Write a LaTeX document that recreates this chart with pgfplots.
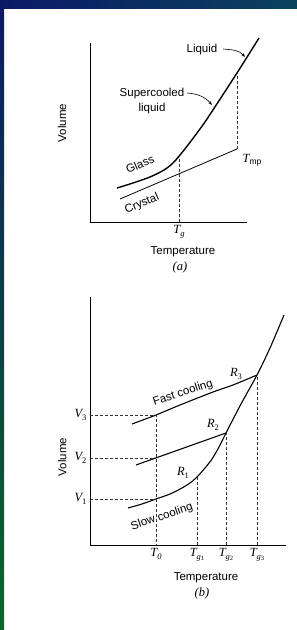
\documentclass[border=0pt]{standalone}
\usepackage{fontspec}
\setmainfont{Liberation Sans}
\newfontfamily\serif{Liberation Serif}
\usepackage{pgfplots}
\pgfplotsset{compat=1.18}
\usetikzlibrary{arrows.meta}
\definecolor{navy}{RGB}{12,26,102}
\definecolor{teal2}{RGB}{10,66,94}
\definecolor{midteal}{RGB}{10,80,82}
\definecolor{green2}{RGB}{8,104,40}
\newcommand{\lbl}{\fontsize{11.5}{13.8}\selectfont}
\newcommand{\sub}[1]{\raisebox{-0.4ex}{\fontsize{8.5}{9}\selectfont #1}}
\newcommand{\ssub}[1]{\raisebox{-0.35ex}{\fontsize{6.5}{7}\selectfont\upshape #1}}
\newcommand{\mi}[1]{{\serif\itshape\fontsize{12.5}{14}\selectfont #1}}
\begin{document}
\begin{tikzpicture}[x=1pt,y=1pt,font=\lbl]
\useasboundingbox (0,0) rectangle (297,630);
\fill[white] (0,0) rectangle (297,630);
\shade[left color=navy,right color=teal2] (0,621) rectangle (297,630);
\shade[top color=navy, middle color=midteal, bottom color=green2] (0,0) rectangle (4,621);

\pgfplotsset{
 diag/.style={scale only axis, axis lines=left, axis line style={-, line width=0.9pt},
   major tick length=0pt, clip=false,
   tick label style={font=\lbl}, label style={font=\lbl}},
 dsh/.style={black!80, line width=0.6pt, dash pattern=on 3pt off 2pt},
}

% ---------- (a) ----------
\begin{axis}[diag, at={(90,408)}, anchor=south west, width=157pt, height=179pt,
  xmin=90, xmax=247, ymin=408, ymax=587,
  xtick={179}, xticklabels={\mi{T\sub{g}}}, ytick=\empty,
  xlabel={Temperature}, ylabel={Volume},
  xlabel style={at={(axis description cs:0.592,-0.168)}, anchor=center},
  ylabel style={at={(axis description cs:-0.178,0.553)}, anchor=center}]
\addplot[black, line width=1.4pt, smooth, tension=0.5] coordinates
  {(117,442) (133,447) (150,453) (164,460) (173,467) (180,475) (188,485) (197,497) (207,511) (237,557) (259,592)};
\addplot[black, line width=0.8pt] coordinates {(120,431) (237,481)};
\addplot[dsh] coordinates {(179,408) (179,474)};
\addplot[dsh] coordinates {(237,481) (237,557)};
\node[rotate=24] at (axis cs:140,466) {Glass};
\node[rotate=23] at (axis cs:142,426) {Crystal};
\node at (axis cs:202,580) {Liquid};
\node at (axis cs:152,536) {Supercooled};
\node at (axis cs:152,521) {liquid};
\node at (axis cs:252,470) {\mi{T\sub{\normalfont mp}}};
\node at (axis cs:180,363) {\mi{(a)}};
\draw[-{Stealth[length=4pt]}, line width=0.6pt] (axis cs:223,581) to[out=-5,in=130] (axis cs:245,573);
\draw[-{Stealth[length=4pt]}, line width=0.6pt] (axis cs:187,537) to[out=-5,in=130] (axis cs:212,525);
\end{axis}

% ---------- (b) ----------
\begin{axis}[diag, at={(90,85)}, anchor=south west, width=196pt, height=248pt,
  xmin=90, xmax=286, ymin=85, ymax=333,
  xtick={156,197,226,257},
  xticklabels={\mi{T\sub{0}},\mi{T\sub{g\ssub{1}}},\mi{T\sub{g\ssub{2}}},\mi{T\sub{g\ssub{3}}}},
  ytick={131,172,215}, yticklabels={\mi{V\sub{\upshape 1}},\mi{V\sub{\upshape 2}},\mi{V\sub{\upshape 3}}},
  xlabel={Temperature}, ylabel={Volume},
  xlabel style={at={(axis description cs:0.592,-0.133)}, anchor=center},
  ylabel style={at={(axis description cs:-0.142,0.355)}, anchor=center}]
\addplot[black, line width=1.1pt, smooth, tension=0.5] coordinates
  {(128,122) (142,126) (156,131) (170,136) (182,142) (190,147) (197,153) (205,162) (212,171) (219,183) (226,197) (241,226) (257,255) (270,282) (284,315)};
\addplot[black, line width=1.1pt] coordinates {(136,165) (226,197)};
\addplot[black, line width=1.1pt, smooth, tension=0.5] coordinates
  {(132,206) (156,215) (180,225) (213,238) (233,245) (257,255)};
\addplot[dsh] coordinates {(90,215) (156,215) (156,85)};
\addplot[dsh] coordinates {(90,172) (156,172)};
\addplot[dsh] coordinates {(90,131) (156,131)};
\addplot[dsh] coordinates {(197,85) (197,153)};
\addplot[dsh] coordinates {(226,85) (226,197)};
\addplot[dsh] coordinates {(257,85) (257,255)};
\node[rotate=18] at (axis cs:183,237) {Fast cooling};
\node[rotate=19] at (axis cs:162,113) {Slow cooling};
\node at (axis cs:183,157) {\mi{R\sub{\upshape 1}}};
\node at (axis cs:213,205) {\mi{R\sub{\upshape 2}}};
\node at (axis cs:236,256) {\mi{R\sub{\upshape 3}}};
\node at (axis cs:202,37) {\mi{(b)}};
\end{axis}
\end{tikzpicture}
\end{document}
